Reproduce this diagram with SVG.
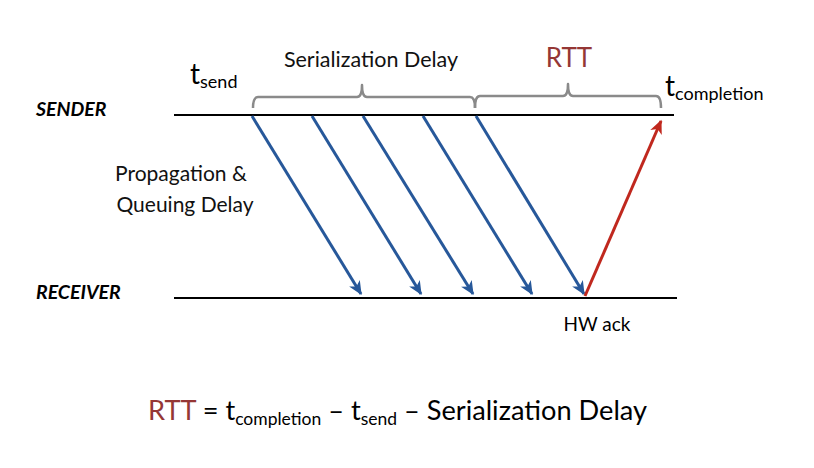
<svg xmlns="http://www.w3.org/2000/svg" width="814" height="468" viewBox="0 0 814 468">
<style>
.gill{font-family:Lato,"Open Sans",sans-serif;font-weight:400;fill:#111}
.cal{font-family:Lato,"Open Sans",sans-serif;fill:#000}
.lbl{font-family:Lato,"Open Sans",sans-serif;font-style:italic;font-weight:700;font-size:19.5px;fill:#000}
.tl{stroke:#000;stroke-width:2;fill:none}
.brace{stroke:#8a8a8a;stroke-width:2.5;fill:none;stroke-linejoin:round}
.blue{stroke:#27589a;stroke-width:3;fill:none}
.red{stroke:#c0281e;stroke-width:3;fill:none}
</style>
<defs>
<marker id="ab" viewBox="0 0 12 12" refX="10" refY="6" markerWidth="5" markerHeight="5" orient="auto" markerUnits="strokeWidth">
<path d="M0,1 L11,6 L0,11 L3,6 Z" fill="#27589a"/>
</marker>
<marker id="ar" viewBox="0 0 12 12" refX="10" refY="6" markerWidth="5" markerHeight="5" orient="auto" markerUnits="strokeWidth">
<path d="M0,1 L11,6 L0,11 L3,6 Z" fill="#c0281e"/>
</marker>
</defs>
<rect width="814" height="468" fill="#fff"/>
<g id="sender">
<line class="tl" x1="174" y1="115" x2="674" y2="115"/>
<text class="lbl" x="36" y="116">SENDER</text>
</g>
<g id="receiver">
<line class="tl" x1="174" y1="298" x2="677" y2="298"/>
<text class="lbl" x="36" y="299">RECEIVER</text>
</g>
<g id="serialization-brace">
<path class="brace" d="M253,108 Q253,97 258,97 L357,97 Q362,97 362,85 Q362,97 367,97 L470,97 Q475,97 475,108"/>
<text class="gill" x="371" y="67" font-size="21.5" text-anchor="middle">Serialization Delay</text>
</g>
<g id="rtt-brace">
<path class="brace" d="M475,108 Q475,96 480,96 L563,96 Q568,96 568,84 Q568,96 573,96 L656,96 Q661,96 661,108"/>
<text x="569" y="67" font-family="Lato,'Open Sans',sans-serif" font-size="26" fill="#953735" text-anchor="middle">RTT</text>
</g>
<g id="tsend">
<text class="cal" x="190" y="84" font-size="28">t<tspan font-size="18" dy="4">send</tspan></text>
</g>
<g id="tcompletion">
<text class="cal" x="665" y="96" font-size="28">t<tspan font-size="18" dy="4">completion</tspan></text>
</g>
<g id="propagation">
<text class="gill" font-size="21" text-anchor="middle"><tspan x="181" y="181">Propagation &amp;</tspan><tspan x="185" y="212">Queuing Delay</tspan></text>
</g>
<g id="hwack">
<text class="cal" x="597" y="331" font-size="19" text-anchor="middle">HW ack</text>
</g>
<g id="connectors">
<line class="blue" x1="252" y1="116" x2="361" y2="294" marker-end="url(#ab)"/>
<line class="blue" x1="312" y1="116" x2="421" y2="294" marker-end="url(#ab)"/>
<line class="blue" x1="363" y1="116" x2="473" y2="294" marker-end="url(#ab)"/>
<line class="blue" x1="423" y1="116" x2="532" y2="294" marker-end="url(#ab)"/>
<line class="blue" x1="476" y1="116" x2="584" y2="294" marker-end="url(#ab)"/>
<line class="red" x1="585" y1="296" x2="661" y2="121" marker-end="url(#ar)"/>
</g>
<g id="formula">
<text class="cal" x="148" y="420" font-size="27.2"><tspan fill="#953735">RTT</tspan> = t<tspan font-size="17.5" dy="5">completion</tspan><tspan dy="-5"> – t</tspan><tspan font-size="17.5" dy="5">send</tspan><tspan dy="-5"> – Serialization Delay</tspan></text>
</g>
</svg>
